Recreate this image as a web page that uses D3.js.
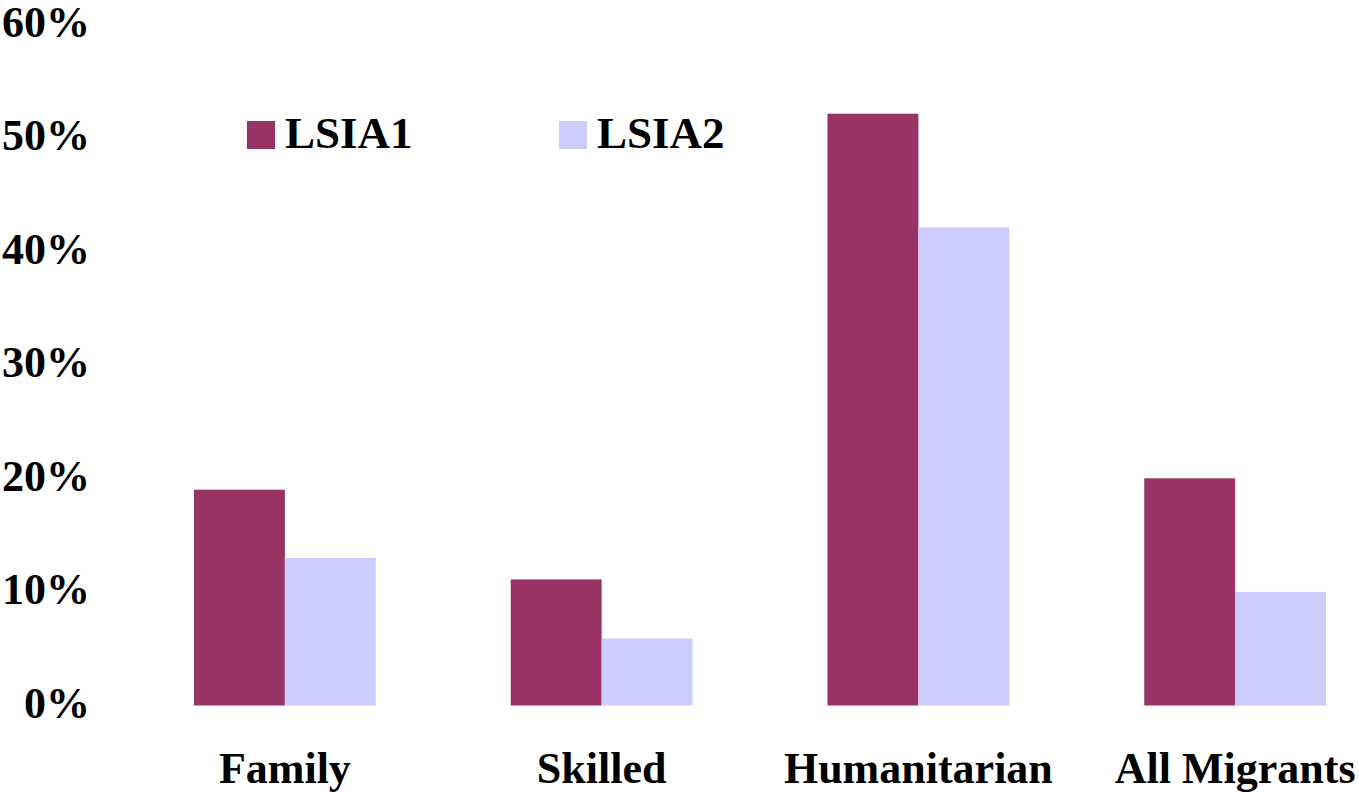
<!DOCTYPE html>
<html>
<head>
<meta charset="utf-8">
<script src="https://cdn.jsdelivr.net/npm/d3@7"></script>
<style>
  body { margin: 0; background: #fff; }
  text { font-family: "Liberation Serif", "Times New Roman", serif; font-weight: bold; fill: #000; }
</style>
</head>
<body>
<div id="chart"></div>
<script>
// data
var categories = ["Family", "Skilled", "Humanitarian", "All Migrants"];
var seriesNames = ["LSIA1", "LSIA2"];
var lsia1 = [0.19, 0.111, 0.521, 0.20];
var lsia2 = [0.13, 0.059, 0.421, 0.10];
var yTicks = [0, 0.1, 0.2, 0.3, 0.4, 0.5, 0.6];
var colors = ["#993366", "#CCCCFF"];

var svgWidth = 1359;
var svgHeight = 792;

var svg = d3.select("#chart")
  .append("svg")
  .attr("width", svgWidth)
  .attr("height", svgHeight);

var rows = categories.map(function (c, i) {
  return { cat: c, values: [lsia1[i], lsia2[i]] };
});

// scales
var x0 = d3.scaleBand()
  .domain(categories)
  .range([126.5, 1393.5])
  .paddingInner(0.426)
  .paddingOuter(0.213);

var x1 = d3.scaleBand()
  .domain(seriesNames)
  .range([0, x0.bandwidth()]);

var y = d3.scaleLinear()
  .domain([0, 0.6])
  .range([705.5, 24]);

// y tick labels (no axis line)
var leftAxis = d3.axisLeft(y)
  .tickValues(yTicks)
  .tickFormat(d3.format(".0%"))
  .tickSize(0)
  .tickPadding(0);

var yAxisG = svg.append("g")
  .attr("transform", "translate(90,0)")
  .call(leftAxis);
yAxisG.select(".domain").remove();
yAxisG.selectAll("text")
  .attr("dy", "12px")
  .style("font-size", "44px")
  .style("font-family", "'Liberation Serif', 'Times New Roman', serif")
  .style("font-weight", "bold")
  .attr("fill", "#000");

// bars
var groups = svg.append("g")
  .selectAll("g")
  .data(rows)
  .enter()
  .append("g")
  .attr("transform", d => `translate(${x0(d.cat)},0)`);

groups.selectAll("rect")
  .data(d => d.values.map((v, j) => ({ name: seriesNames[j], value: v, j: j })))
  .enter()
  .append("rect")
  .attr("x", d => x1(d.name))
  .attr("y", d => y(d.value))
  .attr("width", x1.bandwidth())
  .attr("height", d => y(0) - y(d.value))
  .attr("fill", d => colors[d.j]);

// category labels
var bottomAxis = d3.axisBottom(x0).tickSize(0).tickPadding(0);
var xAxisG = svg.append("g")
  .attr("transform", "translate(0,705.5)")
  .call(bottomAxis);
xAxisG.select(".domain").remove();
xAxisG.selectAll("text")
  .attr("dy", null)
  .attr("y", 77.5)
  .style("font-size", "44px")
  .style("font-family", "'Liberation Serif', 'Times New Roman', serif")
  .style("font-weight", "bold")
  .attr("fill", "#000");

// legend
var legendX = [247, 559];
var legend = svg.append("g")
  .selectAll("g")
  .data(seriesNames)
  .enter()
  .append("g")
  .attr("transform", (d, i) => `translate(${legendX[i]},121)`);

legend.append("rect")
  .attr("width", 28)
  .attr("height", 28)
  .attr("fill", (d, i) => colors[i]);

legend.append("text")
  .attr("x", (d, i) => i === 0 ? 38 : 38)
  .attr("y", 27)
  .style("font-size", "45px")
  .text(d => d);
</script>
</body>
</html>
